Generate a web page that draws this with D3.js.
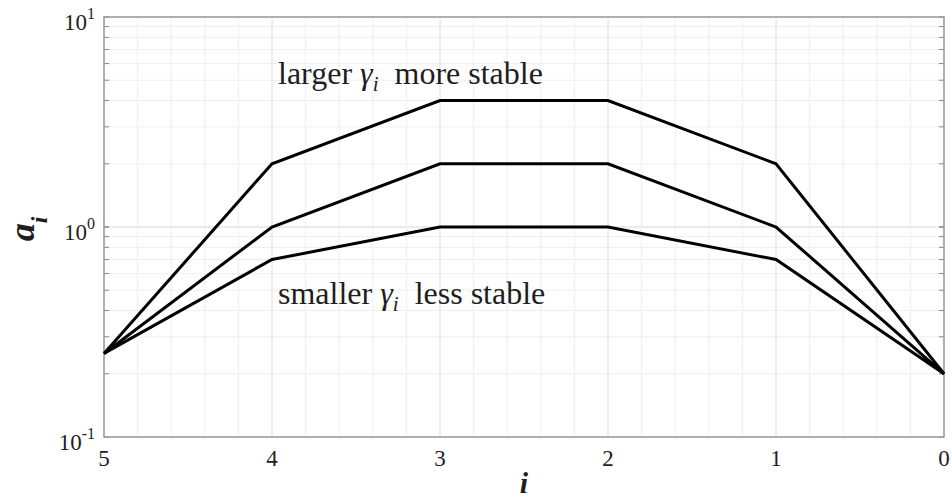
<!DOCTYPE html>
<html>
<head>
<meta charset="utf-8">
<script src="https://cdn.jsdelivr.net/npm/d3@7/dist/d3.min.js"></script>
<style>
  html, body { margin: 0; padding: 0; background: #fff; }
</style>
</head>
<body>
<svg id="chart" width="952" height="502" font-family="'Liberation Serif', 'Times New Roman', Times, serif"></svg>
<script>
// stage index (plotted right-to-left from 5 down to 0)
const stages = [5, 4, 3, 2, 1, 0];
// a_i for three values of gamma_i
const largerGamma  = [0.25, 2, 4, 4, 2, 0.2];
const mediumGamma  = [0.25, 1, 2, 2, 1, 0.2];
const smallerGamma = [0.25, 0.7, 1, 1, 0.7, 0.2];
const xTickLabels = ["5", "4", "3", "2", "1", "0"];
const yDecades = [-1, 0, 1];

const svg = d3.select("#chart");
const margin = { left: 104, right: 8, top: 17, bottom: 65 };
const W = 952, H = 502;
const x0 = margin.left, x1 = W - margin.right;
const y0 = H - margin.bottom, y1 = margin.top;
const ink = "#1e1e1e";

const x = d3.scaleLinear().domain([5, 0]).range([x0, x1]);
const y = d3.scaleLog().domain([0.1, 10]).range([y0, y1]);

// grid: minor vertical every 0.2, horizontal at log minor values
const xMinor = d3.range(0, 5.0001, 0.2);
const yMinor = [];
for (let d = -1; d < 1; d++) for (let m = 1; m <= 10; m++) yMinor.push(m * Math.pow(10, d));

const grid = svg.append("g");
grid.selectAll("line.vx").data(xMinor).join("line")
  .attr("x1", d => x(d)).attr("x2", d => x(d))
  .attr("y1", y0).attr("y2", y1)
  .attr("stroke", "#efefef").attr("stroke-width", 1);
grid.selectAll("line.hy").data(yMinor).join("line")
  .attr("x1", x0).attr("x2", x1)
  .attr("y1", d => y(d)).attr("y2", d => y(d))
  .attr("stroke", "#efefef").attr("stroke-width", 1);
grid.selectAll("line.mx").data(stages).join("line")
  .attr("x1", d => x(d)).attr("x2", d => x(d))
  .attr("y1", y0).attr("y2", y1)
  .attr("stroke", "#e4e4e4").attr("stroke-width", 1);
grid.selectAll("line.my").data(yDecades.map(d => Math.pow(10, d))).join("line")
  .attr("x1", x0).attr("x2", x1)
  .attr("y1", d => y(d)).attr("y2", d => y(d))
  .attr("stroke", "#e4e4e4").attr("stroke-width", 1);

// inward minor ticks on left and right axes
const ticks = svg.append("g").attr("stroke", "#888").attr("stroke-width", 1);
yMinor.forEach(v => {
  ticks.append("line").attr("x1", x0).attr("x2", x0 + 5).attr("y1", y(v)).attr("y2", y(v));
  ticks.append("line").attr("x1", x1).attr("x2", x1 - 5).attr("y1", y(v)).attr("y2", y(v));
});

// box
svg.append("rect").attr("x", x0).attr("y", y1)
  .attr("width", x1 - x0).attr("height", y0 - y1)
  .attr("fill", "none").attr("stroke", "#9a9a9a").attr("stroke-width", 1.5);

// series
const line = d3.line().x((d, i) => x(stages[i])).y(d => y(d));
[largerGamma, mediumGamma, smallerGamma].forEach(s => {
  svg.append("path").datum(s).attr("d", line)
    .attr("fill", "none").attr("stroke", "#000")
    .attr("stroke-width", 3).attr("stroke-linejoin", "miter");
});

// x tick labels
svg.append("g").selectAll("text").data(stages).join("text")
  .attr("x", d => x(d)).attr("y", y0 + 29)
  .attr("text-anchor", "middle").attr("font-size", 23).attr("fill", ink)
  .text((d, i) => xTickLabels[i]);

// y tick labels 10^n
yDecades.forEach(d => {
  const t = svg.append("text")
    .attr("x", x0 - 9).attr("y", y(Math.pow(10, d)) + 13)
    .attr("text-anchor", "end").attr("font-size", 23).attr("fill", ink);
  t.append("tspan").text("10");
  t.append("tspan").attr("dy", -11).attr("font-size", 16).text(String(d));
});

// axis labels
svg.append("text").attr("x", x(2.5)).attr("y", y0 + 56)
  .attr("text-anchor", "middle").attr("font-size", 30).attr("fill", ink)
  .attr("font-weight", "bold").attr("font-style", "italic").text("i");
const yl = svg.append("text")
  .attr("transform", `translate(34,${y(1) + 2}) rotate(-90)`)
  .attr("text-anchor", "middle").attr("font-size", 36).attr("fill", ink)
  .attr("font-weight", "bold").attr("font-style", "italic");
yl.append("tspan").text("a");
yl.append("tspan").attr("dy", 13).attr("font-size", 24).text("i");

// annotations
function note(px, py, pre, post) {
  const t = svg.append("text").attr("x", px).attr("y", py).attr("font-size", 32).attr("fill", ink);
  t.append("tspan").text(pre + " ");
  t.append("tspan").attr("font-style", "italic").text("γ");
  t.append("tspan").attr("font-style", "italic").attr("font-size", 21).attr("dy", 7).text("i");
  t.append("tspan").attr("dy", -7).attr("dx", 8).text(" " + post);
}
note(278, 84, "larger", "more stable");
note(278, 304, "smaller", "less stable");
</script>
</body>
</html>
